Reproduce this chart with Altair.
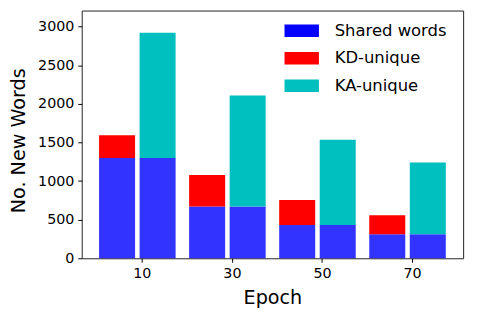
import altair as alt
import pandas as pd

epochs = [10, 30, 50, 70]
shared_words = [1300, 670, 432, 313]
kd_unique = [295, 410, 322, 246]
ka_unique = [1622, 1440, 1105, 928]
series_names = ["Shared words", "KD-unique", "KA-unique"]
series_colors = ["#0000ff", "#ff0000", "#00bfbf"]
y_ticks = [0, 500, 1000, 1500, 2000, 2500, 3000]

rows = []
for i, e in enumerate(epochs):
    rows.append(dict(epoch=e, bar="KD", series="Shared words", order=0, value=shared_words[i]))
    rows.append(dict(epoch=e, bar="KD", series="KD-unique", order=1, value=kd_unique[i]))
    rows.append(dict(epoch=e, bar="KA", series="Shared words", order=0, value=shared_words[i]))
    rows.append(dict(epoch=e, bar="KA", series="KA-unique", order=1, value=ka_unique[i]))
df = pd.DataFrame(rows)

FONT = "DejaVu Sans"

chart = alt.Chart(df).transform_stack(
    stack="value", as_=["y0", "y1"], groupby=["epoch", "bar"], sort=[alt.SortField("order")]
).transform_calculate(
    xs="datum.bar == 'KD' ? datum.epoch - 9.5 : datum.epoch - 0.5"
).transform_calculate(
    xe="datum.xs + 8"
).mark_rect().encode(
    x=alt.X("xs:Q",
            scale=alt.Scale(domain=[-3.35, 81.35], nice=False, zero=False),
            axis=alt.Axis(values=epochs, title="Epoch", grid=False, domain=False, format="d",
                          tickSize=4, tickColor="#000", labelPadding=5,
                          labelFont=FONT, labelFontSize=14.5, labelColor="#000",
                          labelFlush=False,
                          titleFont=FONT, titleFontSize=19.5, titleFontWeight="normal",
                          titleColor="#000", titleBaseline="alphabetic", titleY=46)),
    x2="xe:Q",
    y=alt.Y("y0:Q",
            scale=alt.Scale(domain=[0, 3210], nice=False),
            axis=alt.Axis(values=y_ticks, title="No. New Words", grid=False, domain=False, format="d",
                          tickSize=4, tickColor="#000", labelPadding=4,
                          labelFont=FONT, labelFontSize=14.5, labelColor="#000",
                          titleFont=FONT, titleFontSize=19.5, titleFontWeight="normal",
                          titleColor="#000", titleAngle=-90, titleAlign="center",
                          titleBaseline="middle", titleX=-64, titleY=132)),
    y2="y1:Q",
    color=alt.Color("series:N",
                    scale=alt.Scale(domain=series_names, range=series_colors),
                    legend=alt.Legend(title=None, orient="none", legendX=206.3, legendY=3,
                                      symbolType="M-1,-0.36H1V0.36H-1Z", symbolSize=1225,
                                      symbolStrokeWidth=0, symbolOpacity=1,
                                      labelFont=FONT, labelFontSize=16.7, labelColor="#000",
                                      labelOffset=16, rowPadding=1, padding=0)),
    opacity=alt.condition("datum.series == 'Shared words'", alt.value(0.8), alt.value(1)),
).properties(
    width=388, height=252,
    autosize=alt.AutoSizeParams(type="none"),
    padding={"left": 75, "top": 0, "right": 8, "bottom": 50},
).configure_view(stroke="#222", strokeWidth=1)

chart.save("out.html", embed_options={"renderer": "svg", "actions": False})
